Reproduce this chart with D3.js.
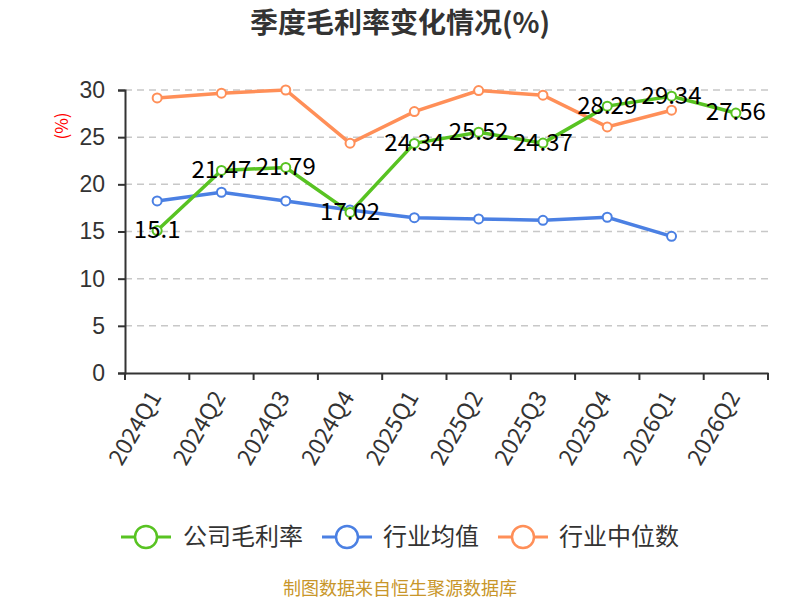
<!DOCTYPE html>
<html>
<head>
<meta charset="utf-8">
<script src="https://cdn.jsdelivr.net/npm/d3@7"></script>
<style>
  body { margin: 0; background: #fff; }
  svg { font-family: "Noto Sans CJK SC", "Noto Sans", sans-serif; }
</style>
</head>
<body>
<svg id="chart" width="800" height="600"></svg>
<script>
// quarters on the x axis
const quarters = ['2024Q1', '2024Q2', '2024Q3', '2024Q4', '2025Q1', '2025Q2', '2025Q3', '2025Q4', '2026Q1', '2026Q2']
// company gross margin (%)
const companyMargin = [15.1, 21.47, 21.79, 17.02, 24.34, 25.52, 24.37, 28.29, 29.34, 27.56]
// industry average (%), no value for 2026Q2
const industryAvg = [18.24, 19.16, 18.24, 17.28, 16.47, 16.33, 16.19, 16.51, 14.49, null]
// industry median (%), no value for 2026Q2
const industryMedian = [29.16, 29.66, 30.0, 24.36, 27.71, 29.94, 29.45, 26.09, 27.86, null]
const yTicks = [0, 5, 10, 15, 20, 25, 30]

const series = [
  { name: '公司毛利率', values: companyMargin, color: '#58c322' },
  { name: '行业均值', values: industryAvg, color: '#4b80e3' },
  { name: '行业中位数', values: industryMedian, color: '#ff8f58' }
]

const svg = d3.select('#chart')
const plotLeft = 125
const plotRight = 768
const plotTop = 90
const plotBottom = 373

const x = d3.scaleBand().domain(quarters).range([plotLeft, plotRight]).padding(0)
const y = d3.scaleLinear().domain([0, 30]).range([plotBottom, plotTop])

// title
svg.append('text')
  .attr('x', 400).attr('y', 23)
  .attr('dy', '.35em')
  .attr('text-anchor', 'middle')
  .attr('fill', '#333')
  .style('font-size', '28px')
  .style('font-weight', 'bold')
  .text('季度毛利率变化情况(%)')

// grid lines
svg.append('g')
  .selectAll('line')
  .data(yTicks.filter(d => d > 0))
  .join('line')
  .attr('x1', plotLeft).attr('x2', plotRight)
  .attr('y1', d => y(d)).attr('y2', d => y(d))
  .attr('stroke', '#c8c8c8')
  .attr('stroke-width', 1.5)
  .attr('stroke-dasharray', '7,5')

// y axis
const yAxis = svg.append('g')
  .attr('class', 'y axis')
  .attr('transform', `translate(${plotLeft},0)`)
  .call(d3.axisLeft(y).tickValues(yTicks).tickSize(7).tickPadding(13))
yAxis.select('.domain').attr('stroke', '#333').attr('stroke-width', 2)
yAxis.selectAll('.tick line').attr('stroke', '#333').attr('stroke-width', 2)
yAxis.selectAll('.tick text')
  .attr('fill', '#333')
  .style('font-size', '23px')

// y axis unit
svg.append('text')
  .attr('transform', 'translate(62,126) rotate(-90)')
  .attr('dy', '.35em')
  .attr('text-anchor', 'middle')
  .attr('fill', 'red')
  .style('font-size', '17px')
  .text('(%)')

// x axis
const xAxis = svg.append('g')
  .attr('class', 'x axis')
  .attr('transform', `translate(0,${plotBottom})`)
  .call(d3.axisBottom(x).tickSize(0).tickFormat(''))
xAxis.select('.domain').attr('stroke', '#333').attr('stroke-width', 2)
xAxis.selectAll('.tick').remove()

// tick marks on band boundaries
const bounds = quarters.map(q => x(q)).concat([plotRight])
svg.append('g')
  .selectAll('line')
  .data(bounds)
  .join('line')
  .attr('x1', d => d).attr('x2', d => d)
  .attr('y1', plotBottom).attr('y2', plotBottom + 7)
  .attr('stroke', '#333')
  .attr('stroke-width', 2)

// rotated quarter labels
svg.append('g')
  .selectAll('text')
  .data(quarters)
  .join('text')
  .attr('transform', d => `translate(${x(d) + x.bandwidth() / 2 - 2},${plotBottom + 20}) rotate(-60)`)
  .attr('dy', '.35em')
  .attr('text-anchor', 'end')
  .attr('fill', '#333')
  .style('font-size', '23px')
  .text(d => d)

// lines and points
const line = d3.line()
  .defined(d => d.v !== null)
  .x(d => x(d.q) + x.bandwidth() / 2)
  .y(d => y(d.v))

series.slice().reverse().forEach(s => {
  const pts = quarters.map((q, i) => ({ q, v: s.values[i] }))
  const g = svg.append('g')
  g.append('path')
    .datum(pts)
    .attr('d', line)
    .attr('fill', 'none')
    .attr('stroke', s.color)
    .attr('stroke-width', 3.5)
  g.selectAll('circle')
    .data(pts.filter(d => d.v !== null))
    .join('circle')
    .attr('cx', d => x(d.q) + x.bandwidth() / 2)
    .attr('cy', d => y(d.v))
    .attr('r', 4.5)
    .attr('fill', '#fff')
    .attr('stroke', s.color)
    .attr('stroke-width', 2)
})

// value labels for the company series
svg.append('g')
  .selectAll('text')
  .data(quarters.map((q, i) => ({ q, v: companyMargin[i] })))
  .join('text')
  .attr('x', d => x(d.q) + x.bandwidth() / 2)
  .attr('y', d => y(d.v) - 1)
  .attr('dy', '.35em')
  .attr('text-anchor', 'middle')
  .attr('fill', '#000')
  .style('font-size', '24px')
  .text(d => d.v)

// legend
const legendItems = [
  { s: series[0], x: 121, tx: 183 },
  { s: series[1], x: 322, tx: 383 },
  { s: series[2], x: 498, tx: 559 }
]
const legend = svg.append('g')
legendItems.forEach(item => {
  const ly = 537
  legend.append('line')
    .attr('x1', item.x).attr('x2', item.x + 50)
    .attr('y1', ly).attr('y2', ly)
    .attr('stroke', item.s.color)
    .attr('stroke-width', 3)
  legend.append('circle')
    .attr('cx', item.x + 25).attr('cy', ly)
    .attr('r', 11)
    .attr('fill', '#fff')
    .attr('stroke', item.s.color)
    .attr('stroke-width', 2.5)
  legend.append('text')
    .attr('x', item.tx).attr('y', ly)
    .attr('dy', '.35em')
    .attr('fill', '#333')
    .style('font-size', '24px')
    .text(item.s.name)
})

// source note
svg.append('text')
  .attr('x', 400).attr('y', 589)
  .attr('dy', '.35em')
  .attr('text-anchor', 'middle')
  .attr('fill', '#c8962a')
  .style('font-size', '18px')
  .text('制图数据来自恒生聚源数据库')
</script>
</body>
</html>
